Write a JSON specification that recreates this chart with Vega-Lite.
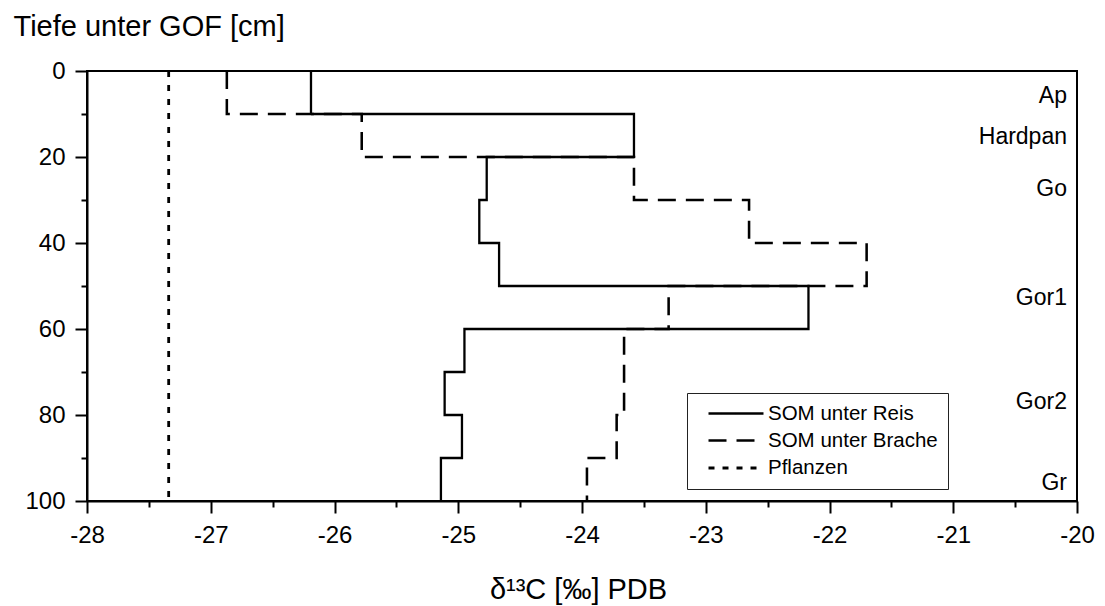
{
  "$schema": "https://vega.github.io/schema/vega-lite/v6.json",
  "width": 990,
  "height": 430,
  "autosize": {"type": "none"},
  "padding": {"left": 87, "top": 71, "right": 28, "bottom": 105},
  "config": {
    "font": "Liberation Sans",
    "view": {"stroke": "black", "strokeWidth": 2},
    "axis": {"grid": false, "domainColor": "black", "domainWidth": 2, "tickColor": "black", "tickWidth": 2, "labelColor": "black", "titleColor": "black", "labelFont": "Liberation Sans", "titleFont": "Liberation Sans", "titleFontWeight": "normal"}
  },
  "datasets": {
    "profiles": [
      {"series": "SOM unter Reis", "order": 1, "depth": 0, "d13c": -26.19},
      {"series": "SOM unter Reis", "order": 2, "depth": 10, "d13c": -26.19},
      {"series": "SOM unter Reis", "order": 3, "depth": 10, "d13c": -23.58},
      {"series": "SOM unter Reis", "order": 4, "depth": 20, "d13c": -23.58},
      {"series": "SOM unter Reis", "order": 5, "depth": 20, "d13c": -24.77},
      {"series": "SOM unter Reis", "order": 6, "depth": 30, "d13c": -24.77},
      {"series": "SOM unter Reis", "order": 7, "depth": 30, "d13c": -24.83},
      {"series": "SOM unter Reis", "order": 8, "depth": 40, "d13c": -24.83},
      {"series": "SOM unter Reis", "order": 9, "depth": 40, "d13c": -24.67},
      {"series": "SOM unter Reis", "order": 10, "depth": 50, "d13c": -24.67},
      {"series": "SOM unter Reis", "order": 11, "depth": 50, "d13c": -22.17},
      {"series": "SOM unter Reis", "order": 12, "depth": 60, "d13c": -22.17},
      {"series": "SOM unter Reis", "order": 13, "depth": 60, "d13c": -24.95},
      {"series": "SOM unter Reis", "order": 14, "depth": 70, "d13c": -24.95},
      {"series": "SOM unter Reis", "order": 15, "depth": 70, "d13c": -25.11},
      {"series": "SOM unter Reis", "order": 16, "depth": 80, "d13c": -25.11},
      {"series": "SOM unter Reis", "order": 17, "depth": 80, "d13c": -24.97},
      {"series": "SOM unter Reis", "order": 18, "depth": 90, "d13c": -24.97},
      {"series": "SOM unter Reis", "order": 19, "depth": 90, "d13c": -25.14},
      {"series": "SOM unter Reis", "order": 20, "depth": 100, "d13c": -25.14},
      {"series": "SOM unter Brache", "order": 1, "depth": 0, "d13c": -26.87},
      {"series": "SOM unter Brache", "order": 2, "depth": 10, "d13c": -26.87},
      {"series": "SOM unter Brache", "order": 3, "depth": 10, "d13c": -25.78},
      {"series": "SOM unter Brache", "order": 4, "depth": 20, "d13c": -25.78},
      {"series": "SOM unter Brache", "order": 5, "depth": 20, "d13c": -23.58},
      {"series": "SOM unter Brache", "order": 6, "depth": 30, "d13c": -23.58},
      {"series": "SOM unter Brache", "order": 7, "depth": 30, "d13c": -22.65},
      {"series": "SOM unter Brache", "order": 8, "depth": 40, "d13c": -22.65},
      {"series": "SOM unter Brache", "order": 9, "depth": 40, "d13c": -21.70},
      {"series": "SOM unter Brache", "order": 10, "depth": 50, "d13c": -21.70},
      {"series": "SOM unter Brache", "order": 11, "depth": 50, "d13c": -23.30},
      {"series": "SOM unter Brache", "order": 12, "depth": 60, "d13c": -23.30},
      {"series": "SOM unter Brache", "order": 13, "depth": 60, "d13c": -23.66},
      {"series": "SOM unter Brache", "order": 14, "depth": 80, "d13c": -23.66},
      {"series": "SOM unter Brache", "order": 15, "depth": 80, "d13c": -23.72},
      {"series": "SOM unter Brache", "order": 16, "depth": 90, "d13c": -23.72},
      {"series": "SOM unter Brache", "order": 17, "depth": 90, "d13c": -23.96},
      {"series": "SOM unter Brache", "order": 18, "depth": 100, "d13c": -23.96},
      {"series": "Pflanzen", "order": 1, "depth": 0, "d13c": -27.34},
      {"series": "Pflanzen", "order": 2, "depth": 100, "d13c": -27.34}
    ],
    "horizons": [
      {"label": "Ap", "depth": 7.5, "pos": -20},
      {"label": "Hardpan", "depth": 17, "pos": -20},
      {"label": "Go", "depth": 29, "pos": -20},
      {"label": "Gor1", "depth": 54.5, "pos": -20},
      {"label": "Gor2", "depth": 78.5, "pos": -20},
      {"label": "Gr", "depth": 97.5, "pos": -20}
    ]
  },
  "layer": [
    {
      "data": {"name": "profiles"},
      "mark": {"type": "line", "color": "black", "clip": true},
      "encoding": {
        "x": {
          "field": "d13c", "type": "quantitative",
          "scale": {"domain": [-28, -20], "nice": false, "zero": false},
          "axis": {
            "title": "δ¹³C [‰] PDB",
            "titleFontSize": 29,
            "titleY": 97,
            "titleX": 491,
            "titleBaseline": "alphabetic",
            "values": [-28, -27.5, -27, -26.5, -26, -25.5, -25, -24.5, -24, -23.5, -23, -22.5, -22, -21.5, -21, -20.5, -20],
            "labelExpr": "datum.value % 1 === 0 ? '' + datum.value : ''",
            "tickSize": {"condition": {"test": "datum.value % 1 === 0", "value": 12}, "value": 6},
            "labelFontSize": 24,
            "labelPadding": 10,
            "labelFlush": false,
            "labelOverlap": false
          }
        },
        "y": {
          "field": "depth", "type": "quantitative",
          "scale": {"domain": [0, 100], "reverse": true, "nice": false},
          "axis": {
            "title": "Tiefe unter GOF [cm]",
            "titleFontSize": 29,
            "titleAngle": 0,
            "titleAlign": "left",
            "titleBaseline": "alphabetic",
            "titleX": -74,
            "titleY": -36,
            "values": [0, 10, 20, 30, 40, 50, 60, 70, 80, 90, 100],
            "labelExpr": "datum.value % 20 === 0 ? '' + datum.value : ''",
            "tickSize": {"condition": {"test": "datum.value % 20 === 0", "value": 12}, "value": 6},
            "labelFontSize": 24,
            "labelPadding": 10,
            "labelFlush": false,
            "labelOverlap": false
          }
        },
        "order": {"field": "order", "type": "quantitative"},
        "strokeDash": {
          "field": "series", "type": "nominal",
          "scale": {"domain": ["SOM unter Reis", "SOM unter Brache", "Pflanzen"], "range": [[1, 0], [18, 10], [6, 8]]},
          "legend": {
            "title": null,
            "orient": "none",
            "legendX": 600,
            "legendY": 322,
            "padding": 10,
            "symbolOffset": 28,
            "symbolType": "M-3,0H3",
            "symbolSize": 336,
            "symbolStrokeColor": "black",
            "symbolStrokeWidth": 2.5,
            "labelFontSize": 20.5,
            "labelColor": "black",
            "labelOffset": 21,
            "rowPadding": 6,
            "strokeColor": "#222",
            "labelLimit": 400
          }
        },
        "strokeWidth": {
          "field": "series", "type": "nominal",
          "scale": {"domain": ["SOM unter Reis", "SOM unter Brache", "Pflanzen"], "range": [2.3, 2.8, 3]},
          "legend": null
        }
      }
    },
    {
      "data": {"name": "horizons"},
      "mark": {"type": "text", "align": "right", "baseline": "alphabetic", "dx": -10, "fontSize": 23, "color": "black"},
      "encoding": {
        "x": {"field": "pos", "type": "quantitative"},
        "y": {"field": "depth", "type": "quantitative"},
        "text": {"field": "label"}
      }
    }
  ]
}
